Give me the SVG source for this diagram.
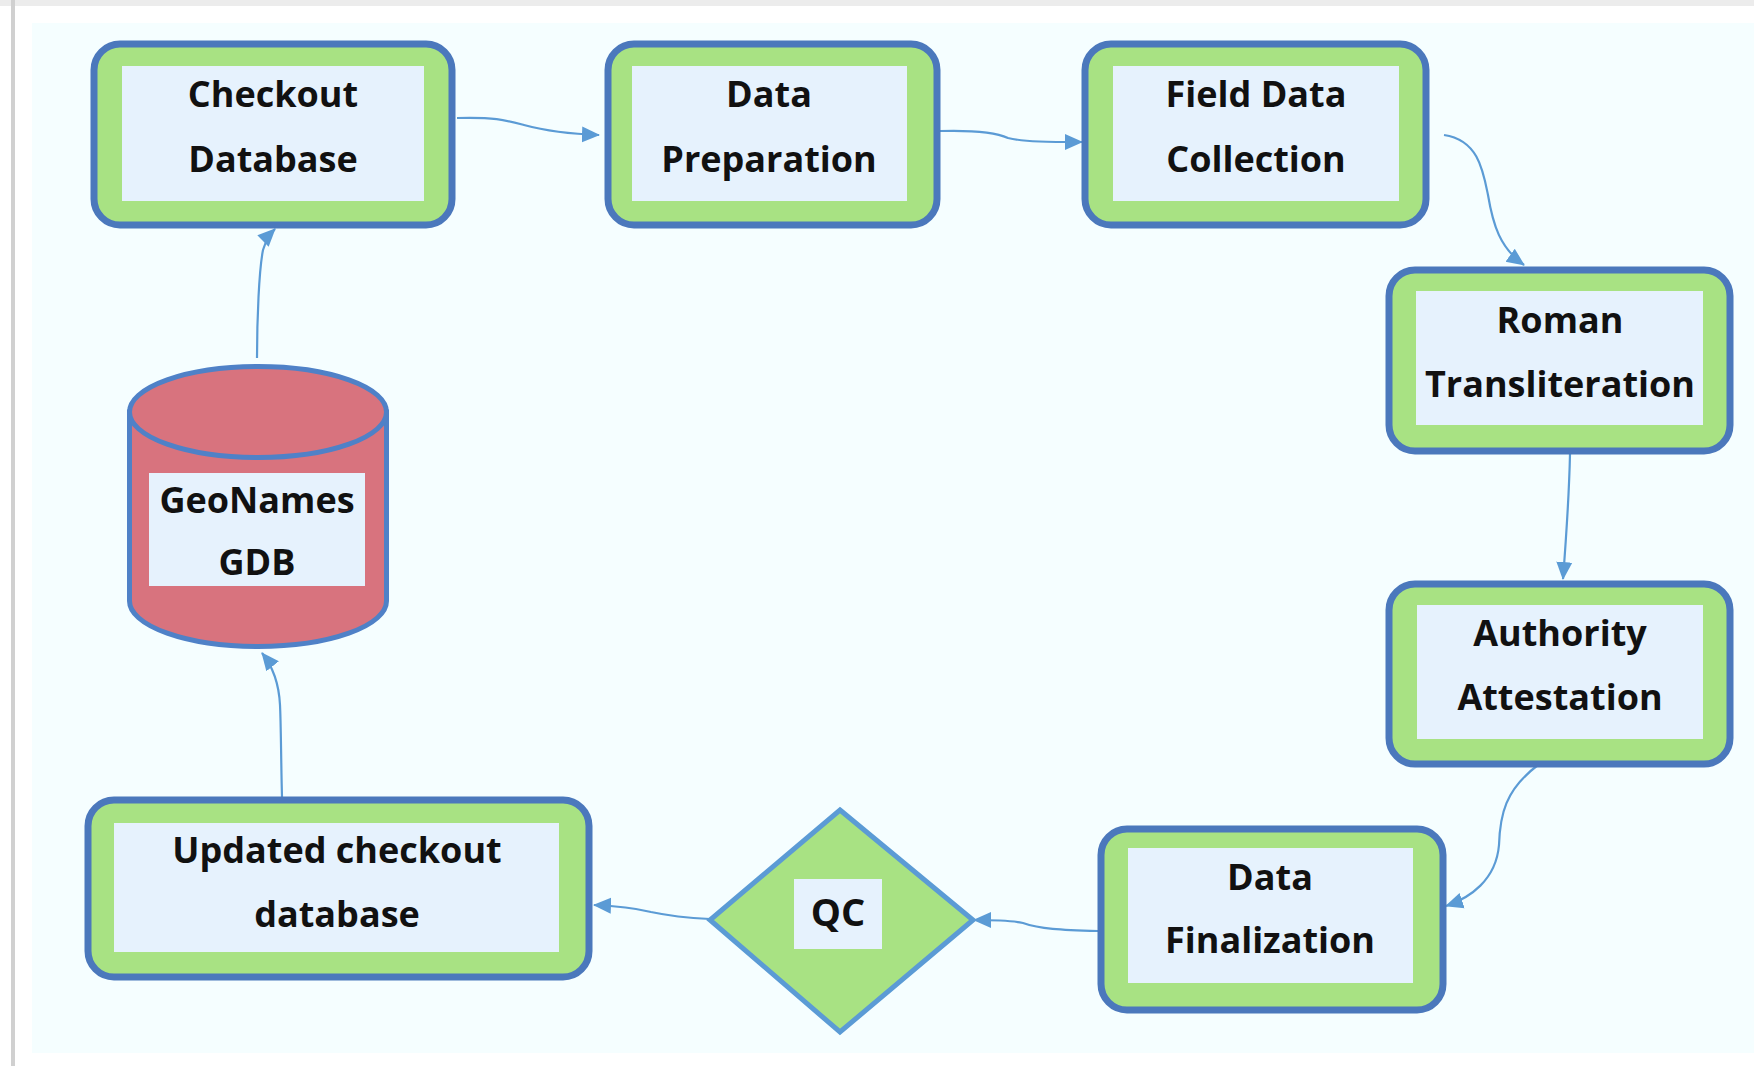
<svg xmlns="http://www.w3.org/2000/svg" width="1754" height="1066" viewBox="0 0 1754 1066">
<defs>
<style>
.box{fill:#a8e283;stroke:#4b78bc;stroke-width:7}
.inner{fill:#e6f2fd}
.lbl{font-family:"Open Sans","Liberation Sans",sans-serif;font-weight:700;font-size:36px;fill:#111;text-anchor:middle}
.conn{fill:none;stroke:#5b9bd5;stroke-width:2.2}
</style>
<marker id="ah" markerUnits="userSpaceOnUse" markerWidth="18" markerHeight="18" viewBox="0 0 18 18" refX="17" refY="9" orient="auto">
<path d="M0,1 L18,9 L0,17 Z" fill="#5b9bd5"/>
</marker>
</defs>
<rect x="0" y="0" width="1754" height="1066" fill="#ffffff"/>
<rect x="0" y="0" width="1754" height="6" fill="#ececec"/>
<rect x="11" y="0" width="4" height="1066" fill="#d0d0d0"/>
<rect x="32" y="23" width="1722" height="1030" fill="#f5feff"/>

<g id="connectors">
<path class="conn" marker-end="url(#ah)" d="M457,118 C495,117 505,120 524,125 C546,131 570,134 599,135"/>
<path class="conn" marker-end="url(#ah)" d="M940,131 C975,130 995,132 1008,138 C1025,142 1050,142 1082,142"/>
<path class="conn" marker-end="url(#ah)" d="M1444,135 C1478,140 1483,170 1488,195 C1493,225 1500,248 1524,265"/>
<path class="conn" marker-end="url(#ah)" d="M1570,454 C1569,500 1566,540 1563,579"/>
<path class="conn" marker-end="url(#ah)" d="M1538,765 C1505,790 1500,815 1499,845 C1496,880 1470,898 1446,906"/>
<path class="conn" marker-end="url(#ah)" d="M1098,931 C1060,930 1040,929 1023,923 C1010,920 995,920 974,920"/>
<path class="conn" marker-end="url(#ah)" d="M710,919 C690,918 665,915 651,912 C635,908 620,906 594,905"/>
<path class="conn" marker-end="url(#ah)" d="M282,797 C281,760 281,725 280,705 C279,685 274,668 262,653"/>
<path class="conn" marker-end="url(#ah)" d="M257,358 C257,320 259,270 263,250 C266,240 270,234 275,229"/>
</g>

<g id="checkout-database">
<rect class="box" x="94" y="44" width="358" height="181" rx="26"/>
<rect class="inner" x="122" y="66" width="302" height="135"/>
<text class="lbl" x="273" y="107">Checkout</text>
<text class="lbl" x="273" y="172">Database</text>
</g>

<g id="data-preparation">
<rect class="box" x="608" y="44" width="329" height="181" rx="26"/>
<rect class="inner" x="632" y="66" width="275" height="135"/>
<text class="lbl" x="769" y="107">Data</text>
<text class="lbl" x="769" y="172">Preparation</text>
</g>

<g id="field-data-collection">
<rect class="box" x="1085" y="44" width="341" height="181" rx="26"/>
<rect class="inner" x="1113" y="66" width="286" height="135"/>
<text class="lbl" x="1256" y="107">Field Data</text>
<text class="lbl" x="1256" y="172">Collection</text>
</g>

<g id="roman-transliteration">
<rect class="box" x="1389" y="270" width="341" height="181" rx="26"/>
<rect class="inner" x="1416" y="291" width="287" height="134"/>
<text class="lbl" x="1560" y="333">Roman</text>
<text class="lbl" x="1560" y="397">Transliteration</text>
</g>

<g id="authority-attestation">
<rect class="box" x="1389" y="584" width="341" height="180" rx="26"/>
<rect class="inner" x="1417" y="605" width="286" height="134"/>
<text class="lbl" x="1560" y="646">Authority</text>
<text class="lbl" x="1560" y="710">Attestation</text>
</g>

<g id="data-finalization">
<rect class="box" x="1101" y="829" width="342" height="181" rx="26"/>
<rect class="inner" x="1128" y="848" width="285" height="135"/>
<text class="lbl" x="1270" y="890">Data</text>
<text class="lbl" x="1270" y="953">Finalization</text>
</g>

<g id="qc">
<polygon points="840,810 973,920 840,1032 710,920" fill="#a8e283" stroke="#5b9bd5" stroke-width="5" stroke-linejoin="miter"/>
<rect class="inner" x="794" y="879" width="88" height="70"/>
<text class="lbl" x="838" y="926" style="font-size:38px">QC</text>
</g>

<g id="updated-checkout-database">
<rect class="box" x="88" y="800" width="501" height="177" rx="26"/>
<rect class="inner" x="114" y="823" width="445" height="129"/>
<text class="lbl" x="337" y="863">Updated checkout</text>
<text class="lbl" x="337" y="927">database</text>
</g>

<g id="geonames-gdb">
<path d="M129.5,412 L129.5,601 A128.5,45.5 0 0 0 386.5,601 L386.5,412 Z" fill="#d8737e" stroke="#4f81c7" stroke-width="5"/>
<ellipse cx="258" cy="412" rx="128.5" ry="45.5" fill="#d8737e" stroke="#4f81c7" stroke-width="5"/>
<rect class="inner" x="149" y="473" width="216" height="113"/>
<text class="lbl" x="257" y="513">GeoNames</text>
<text class="lbl" x="257" y="575">GDB</text>
</g>
</svg>
